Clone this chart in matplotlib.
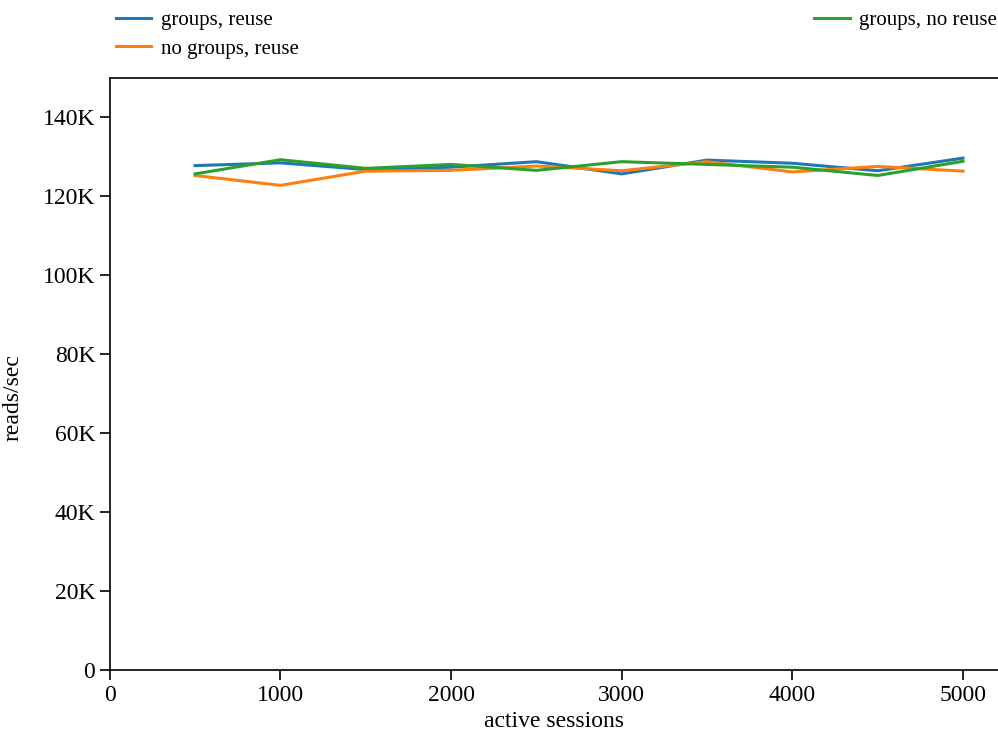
import matplotlib
matplotlib.use("Agg")
import matplotlib.pyplot as plt
from matplotlib.ticker import FuncFormatter

sessions = [500, 1000, 1500, 2000, 2500, 3000, 3500, 4000, 4500, 5000]
groups_reuse = [127800, 128500, 126800, 127400, 128800, 125700, 129200, 128400, 126500, 129700]
no_groups_reuse = [125300, 122800, 126400, 126600, 127700, 126500, 128800, 126200, 127600, 126400]
groups_no_reuse = [125700, 129300, 127100, 128100, 126600, 128800, 128100, 127400, 125300, 128900]

plt.rcParams['font.family'] = ['Liberation Serif', 'DejaVu Serif']
plt.rcParams['font.size'] = 17

fig = plt.figure(figsize=(9.98, 7.43), dpi=100)
ax = fig.add_axes([0.110, 0.0983, 0.890, 0.7967])

ax.plot(sessions, groups_reuse, color='#1f77b4', lw=2.2, label='groups, reuse')
ax.plot(sessions, no_groups_reuse, color='#ff7f0e', lw=2.2, label='no groups, reuse')
ax.plot(sessions, groups_no_reuse, color='#2ca02c', lw=2.2, label='groups, no reuse')

ax.set_xlim(0, 5205)
ax.set_ylim(0, 150000)
ax.set_xticks([0, 1000, 2000, 3000, 4000, 5000])
ax.set_yticks(range(0, 140001, 20000))
ax.yaxis.set_major_formatter(FuncFormatter(lambda v, p: '0' if v == 0 else f'{int(v/1000)}K'))
ax.spines['right'].set_visible(False)
ax.tick_params(direction='out', length=7, width=1.2, labelsize=17)
for s in ax.spines.values():
    s.set_linewidth(1.2)

ax.set_xlabel('active sessions', fontsize=17)
ax.set_ylabel('reads/sec', fontsize=17)
ax.yaxis.set_label_coords(-0.097, 0.46)

ax.legend(loc='upper left', bbox_to_anchor=(0, 1.124, 1.006, 0.0), ncol=2, mode='expand',
          frameon=False, fontsize=15, handlelength=1.7, handletextpad=0.45,
          borderaxespad=0.0, borderpad=0.3, labelspacing=0.42)

fig.savefig('out.png', dpi=100)
